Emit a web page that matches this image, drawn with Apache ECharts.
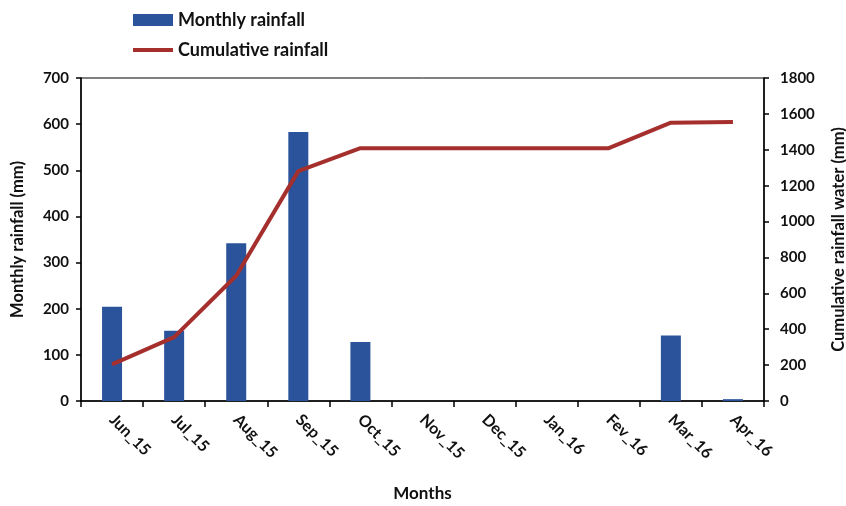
<!DOCTYPE html>
<html>
<head>
<meta charset="utf-8">
<script src="https://cdn.jsdelivr.net/npm/echarts@6/dist/echarts.min.js"></script>
<style>
  html, body { margin: 0; padding: 0; background: #fff; }
  #chart { width: 846px; height: 506px; }
</style>
</head>
<body>
<div id="chart"></div>
<script>
// Monthly and cumulative rainfall, June 2015 – April 2016
const months = ['Jun_15', 'Jul_15', 'Aug_15', 'Sep_15', 'Oct_15', 'Nov_15', 'Dec_15', 'Jan_16', 'Fev_16', 'Mar_16', 'Apr_16'];
const monthlyRainfall = [204, 152, 342, 583, 128, 0, 0, 0, 0, 142, 4];
const cumulativeRainfall = [204, 356, 698, 1281, 1409, 1409, 1409, 1409, 1409, 1551, 1555];
const leftTicks = { min: 0, max: 700, interval: 100 };
const rightTicks = { min: 0, max: 1800, interval: 200 };

const FONT = 'Lato, "Open Sans", sans-serif';
const txt = { fontFamily: FONT, fontWeight: 'bold', fontSize: 15, color: '#111' };
const titleTxt = Object.assign({}, txt, { fontSize: 16.5 });
const LINE_COLOR = '#A52F2C';

const chart = echarts.init(document.getElementById('chart'), null, { renderer: 'canvas' });
chart.setOption({
  animation: false,
  backgroundColor: '#fff',
  textStyle: { fontFamily: FONT },
  legend: {
    orient: 'vertical',
    left: 126,
    top: 6,
    itemGap: 12,
    itemWidth: 40,
    itemHeight: 12,
    textStyle: Object.assign({}, txt, { fontSize: 18 }),
    data: [
      { name: 'Monthly rainfall', icon: 'rect' },
      { name: 'Cumulative rainfall', itemStyle: { opacity: 0 }, lineStyle: { width: 4, color: LINE_COLOR } }
    ]
  },
  grid: {
    left: 81, right: 82, top: 78, bottom: 105,
    containLabel: false,
    outerBoundsMode: 'none',
    show: true, borderColor: '#000', borderWidth: 1
  },
  xAxis: {
    type: 'category',
    data: months,
    name: 'Months',
    nameLocation: 'middle',
    nameGap: 84,
    nameTextStyle: Object.assign({}, txt, { fontSize: 17 }),
    axisLine: { lineStyle: { color: '#000', width: 1.5 } },
    axisTick: { show: true, length: 6, lineStyle: { color: '#000', width: 1.5 } },
    axisLabel: Object.assign({}, txt, { fontSize: 16, rotate: -45, margin: 16, interval: 0 }),
    splitLine: { show: false }
  },
  yAxis: [
    {
      type: 'value',
      min: leftTicks.min, max: leftTicks.max, interval: leftTicks.interval,
      name: 'Monthly rainfall (mm)',
      nameLocation: 'middle',
      nameGap: 55,
      nameTextStyle: titleTxt,
      axisLine: { show: true, lineStyle: { color: '#000', width: 1.5 } },
      axisTick: { show: true, length: 5, lineStyle: { color: '#000', width: 1.5 } },
      axisLabel: Object.assign({}, txt, { margin: 12 }),
      splitLine: { show: false }
    },
    {
      type: 'value',
      position: 'right',
      min: rightTicks.min, max: rightTicks.max, interval: rightTicks.interval,
      name: 'Cumulative rainfall water (mm)',
      nameLocation: 'middle',
      nameGap: 66,
      nameRotate: 90,
      nameTextStyle: titleTxt,
      axisLine: { show: true, lineStyle: { color: '#000', width: 1.5 } },
      axisTick: { show: true, length: 5, lineStyle: { color: '#000', width: 1.5 } },
      axisLabel: Object.assign({}, txt, { margin: 16, formatter: v => String(v) }),
      splitLine: { show: false }
    }
  ],
  series: [
    {
      name: 'Monthly rainfall',
      type: 'bar',
      yAxisIndex: 0,
      data: monthlyRainfall,
      barWidth: 20,
      itemStyle: { color: '#2B539C' }
    },
    {
      name: 'Cumulative rainfall',
      type: 'line',
      yAxisIndex: 1,
      data: cumulativeRainfall,
      symbol: 'none',
      lineStyle: { color: LINE_COLOR, width: 4 },
      itemStyle: { color: LINE_COLOR }
    }
  ]
});
</script>
</body>
</html>
